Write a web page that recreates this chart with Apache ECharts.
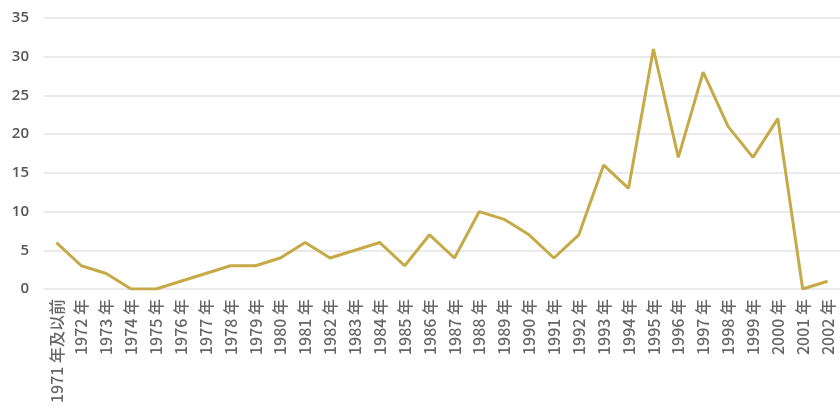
<!DOCTYPE html>
<html>
<head>
<meta charset="utf-8">
<script src="https://cdn.jsdelivr.net/npm/echarts@6/dist/echarts.min.js"></script>
<style>
html,body{margin:0;padding:0;background:#fff;}
#chart{width:840px;height:415px;}
</style>
</head>
<body>
<div id="chart"></div>
<script>
const categories = ['1971 年及以前','1972 年','1973 年','1974 年','1975 年','1976 年','1977 年','1978 年','1979 年','1980 年','1981 年','1982 年','1983 年','1984 年','1985 年','1986 年','1987 年','1988 年','1989 年','1990 年','1991 年','1992 年','1993 年','1994 年','1995 年','1996 年','1997 年','1998 年','1999 年','2000 年','2001 年','2002 年'];
const values = [6,3,2,0,0,1,2,3,3,4,6,4,5,6,3,7,4,10,9,7,4,7,16,13,31,17,28,21,17,22,0,1];
const yTicks = {min:0, max:35, interval:5};

const chart = echarts.init(document.getElementById('chart'));
chart.setOption({
  animation:false,
  grid:{left:44, top:18, width:800, height:271},
  xAxis:{
    type:'category',
    data:categories,
    boundaryGap:true,
    axisLine:{show:false},
    axisTick:{show:false},
    axisLabel:{rotate:90, interval:0, margin:10, color:'#666', fontSize:16, fontWeight:500, fontFamily:'Noto Sans CJK SC, Noto Sans, sans-serif'}
  },
  yAxis:{
    type:'value',
    min:yTicks.min, max:yTicks.max, interval:yTicks.interval,
    axisLine:{show:false},
    axisTick:{show:false},
    axisLabel:{margin:15, color:'#555', fontSize:15, fontWeight:600, fontFamily:'Open Sans, sans-serif'},
    splitLine:{lineStyle:{color:'#e3e3e3', width:1.5}}
  },
  series:[{
    type:'line',
    data:values,
    symbol:'none',
    lineStyle:{color:'#c6aa48', width:3},
    itemStyle:{color:'#c6aa48'}
  }]
});
</script>
</body>
</html>
